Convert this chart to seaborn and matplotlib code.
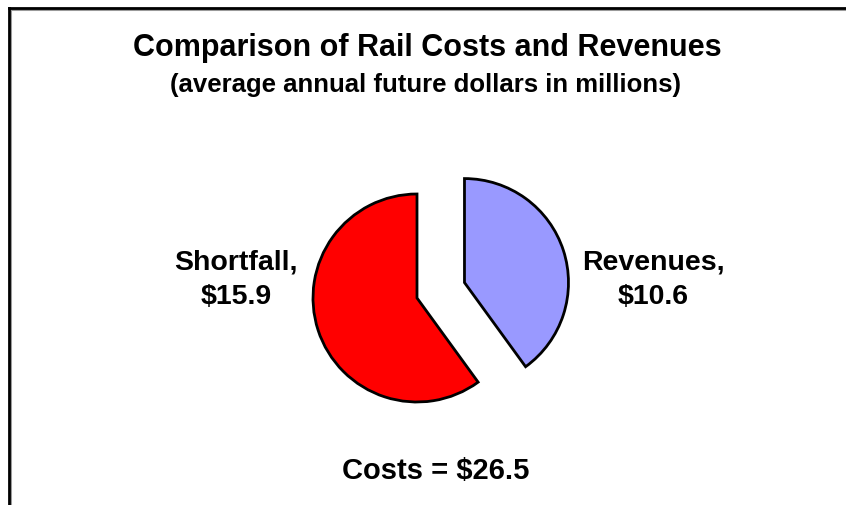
import matplotlib
matplotlib.use("Agg")
import matplotlib.pyplot as plt
from matplotlib.lines import Line2D
import seaborn as sns

sns.set_style("white")
plt.rcParams['font.family'] = ['Liberation Sans', 'DejaVu Sans']
plt.rcParams['text.color'] = 'black'

categories = ["Revenues", "Shortfall"]
values = [10.6, 15.9]
colors = ["#9999FF", "#FF0000"]
total_label = "Costs = $26.5"
title = "Comparison of Rail Costs and Revenues"
subtitle = "(average annual future dollars in millions)"

W, H = 846, 506
fig = plt.figure(figsize=(W / 100, H / 100), dpi=100)
fig.patch.set_facecolor("white")

# pie axes: center (417, 299) px from top, radius ~104 px
r_px = 104
half = 1.6 * r_px
cx, cy = 417, 299
ax = fig.add_axes([(cx - half) / W, (H - cy - half) / H, 2 * half / W, 2 * half / H])
ax.pie(values, colors=colors, startangle=90, counterclock=False,
       explode=[0.48, 0.0], radius=1.0,
       wedgeprops=dict(edgecolor="black", linewidth=2.0))
ax.set_xlim(-1.6, 1.6)
ax.set_ylim(-1.6, 1.6)
ax.set_aspect("equal")
ax.axis("off")

def fx(x):
    return x / W

def fy(y):
    return 1 - y / H

fig.text(fx(427), fy(48), title, ha="center", va="center", fontsize=22, fontweight="bold", color="black")
fig.text(fx(425), fy(85), subtitle, ha="center", va="center", fontsize=18.5, fontweight="bold", color="black")

label_pos = {"Shortfall": 236, "Revenues": 653}
for cat, val in zip(categories, values):
    x = label_pos[cat]
    fig.text(fx(x), fy(270), f"{cat},", ha="center", va="baseline", fontsize=20.5,
             fontweight="bold", color="black")
    fig.text(fx(x), fy(304), f"${val:.1f}", ha="center", va="baseline", fontsize=20.5,
             fontweight="bold", color="black")

fig.text(fx(436), fy(479), total_label, ha="center", va="baseline", fontsize=21, fontweight="bold", color="black")

# frame (left and top edges)
fig.add_artist(Line2D([fx(10), fx(10)], [fy(10), 0], color="#9a9a9a", linewidth=2.2))
fig.add_artist(Line2D([fx(10), 1], [fy(10), fy(10)], color="#9a9a9a", linewidth=2.2))
fig.add_artist(Line2D([fx(9), fx(9)], [fy(9), 0], color="black", linewidth=2.0, solid_capstyle="projecting"))
fig.add_artist(Line2D([fx(9), 1], [fy(9), fy(9)], color="black", linewidth=2.0, solid_capstyle="projecting"))

fig.savefig("out.png", dpi=100, facecolor="white")
